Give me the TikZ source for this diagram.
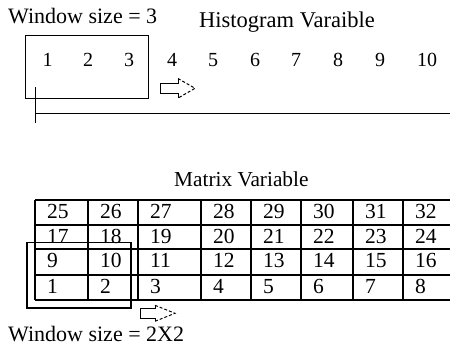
\documentclass[tikz,border=0pt]{standalone}
\usepackage{fontspec}
\setmainfont{Liberation Serif}
\begin{document}
\begin{tikzpicture}[x=1pt,y=-1pt,
  lbl/.style={inner sep=0pt, anchor=base west, font=\fontsize{22}{26}\selectfont},
  title/.style={inner sep=0pt, anchor=base west, font=\fontsize{22.5}{26}\selectfont},
  hnum/.style={inner sep=0pt, anchor=base, font=\fontsize{20}{24}\selectfont},
  cell/.style={inner sep=0pt, anchor=base west, font=\fontsize{21.5}{24}\selectfont},
  thinline/.style={line width=1pt},
  gridline/.style={line width=1.4pt},
  winbox/.style={line width=1.2pt},
  blockarrow/.style={line width=1pt, line join=miter}]
\useasboundingbox (0,0) rectangle (450,351);

% ---- Histogram part ----
\node[lbl] (ws3) at (8,23) {Window size = 3};
\node[title] (hv) at (199,27.5) {Histogram Varaible};
\draw[thinline] (25,35) rectangle (148,98);
\foreach \n/\x in {1/47.5,2/88,3/129,4/172,5/213,6/255,7/296,8/338,9/380,10/427}
  \node[hnum] (h\n) at (\x,66.7) {\n};
\coordinate (vtop) at (35,87);
\coordinate (vbot) at (35,123);
\coordinate (hl) at (35,113);
\coordinate (hr) at (450,113);
\draw[thinline] (vtop) -- (vbot);
\draw[thinline] (hl) -- (hr);
% block arrow 1
\draw[blockarrow] (178,78.5) -- (178,83.3) -- (160,83.3) -- (160,93.3) -- (178,93.3) -- (178,98.1);
\draw[blockarrow, densely dashed] (178,78.5) -- (195,88.3) -- (178,98.1);

% ---- Matrix part ----
\node[title, font=\fontsize{21.3}{25}\selectfont] (mv) at (174,186.7) {Matrix Variable};
\foreach \y in {200,225,249,275,300}
  \draw[gridline] (35,\y) -- (450,\y);
\foreach \x in {35,88,138,201,251,301,353,403}
  \draw[gridline] (\x,200) -- (\x,300);
\foreach \r/\t in {0/200,1/225,2/249,3/275}
  \foreach \c/\x in {0/35,1/88,2/138,3/201,4/251,5/301,6/353,7/403}
  {
    \pgfmathtruncatemacro\v{(3-\r)*8+\c+1}
    \node[cell] (m\v) at (\x+12,\t+18) {\v};
  }
\draw[winbox] (27,242.7) rectangle (131,308);
% block arrow 2
\draw[blockarrow] (155,305.3) -- (155,308.3) -- (140.7,308.3) -- (140.7,318.3) -- (155,318.3) -- (155,321.3);
\draw[blockarrow, densely dashed] (155,305.3) -- (175,313.3) -- (155,321.3);
\node[lbl] (ws22) at (8,341) {Window size = 2X2};
\end{tikzpicture}
\end{document}
